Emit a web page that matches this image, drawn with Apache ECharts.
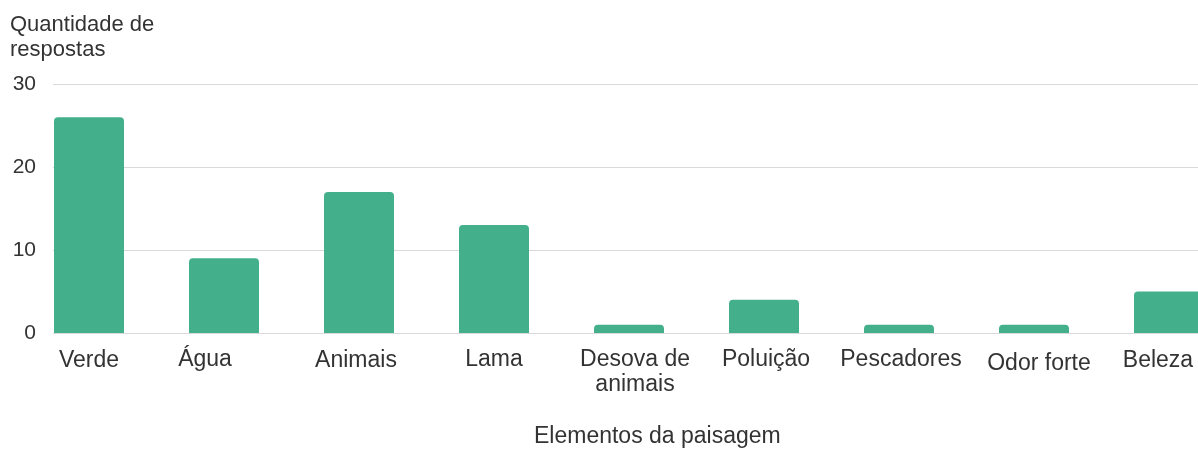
<!DOCTYPE html>
<html>
<head>
<meta charset="utf-8">
<script src="https://cdn.jsdelivr.net/npm/echarts@6/dist/echarts.min.js"></script>
<style>
html,body{margin:0;padding:0;background:#fff;}
#chart{width:1198px;height:449px;}
</style>
</head>
<body>
<div id="chart"></div>
<script>
const categories = ['Verde', 'Água', 'Animais', 'Lama', 'Desova de\nanimais', 'Poluição', 'Pescadores', 'Odor forte', 'Beleza'];
const values = [26, 9, 17, 13, 1, 4, 1, 1, 5];
const yTicks = [0, 10, 20, 30];
const yAxisTitle = 'Quantidade de\nrespostas';
const xAxisTitle = 'Elementos da paisagem';

// label placement tweaks (layout only): horizontal and vertical nudges in px
const labelDx = [0, -19, -3, 0, 6, 2, 2, 5, -11];
const labelDy = [3, 1, 3, 1, 0, 0, 1, 8, 2];

const FONT = '"Liberation Sans", Arial, sans-serif';
const TXT = '#333333';
const chart = echarts.init(document.getElementById('chart'), null, {renderer: 'canvas'});
const yMin = yTicks[0], yMax = yTicks[yTicks.length - 1], yStep = yTicks[1] - yTicks[0];

const rich = {};
categories.forEach(function (c, i) {
  const dx = labelDx[i], dy = labelDy[i];
  rich['c' + i] = {
    fontSize: 23, fontFamily: FONT, color: TXT, lineHeight: 25,
    padding: [dy, dx < 0 ? -2 * dx : 0, 0, dx > 0 ? 2 * dx : 0]
  };
});

chart.setOption({
  animation: false,
  backgroundColor: '#ffffff',
  textStyle: {fontFamily: FONT},
  title: [
    {text: yAxisTitle, left: 10, top: 12, padding: 0,
     textStyle: {fontFamily: FONT, fontSize: 22, fontWeight: 'normal', color: TXT, lineHeight: 25}},
    {text: xAxisTitle, left: 534, top: 425, padding: 0,
     textStyle: {fontFamily: FONT, fontSize: 23, fontWeight: 'normal', color: TXT}}
  ],
  grid: [
    {left: 53, right: 0, top: 84, bottom: 116, outerBoundsMode: 'none'},
    {left: 21.5, right: -38.5, top: 84, bottom: 116, outerBoundsMode: 'none'}
  ],
  xAxis: [
    {type: 'value', gridIndex: 0, show: false, min: 0, max: 1},
    {type: 'category', gridIndex: 1, data: categories, boundaryGap: true,
     axisLine: {show: false}, axisTick: {show: false},
     axisLabel: {interval: 0, margin: 14, fontSize: 23, color: TXT, fontFamily: FONT, lineHeight: 25,
       formatter: function (v, i) { return '{c' + i + '|' + v + '}'; },
       rich: rich}}
  ],
  yAxis: [
    {type: 'value', gridIndex: 0, min: yMin, max: yMax, interval: yStep,
     axisLine: {show: false}, axisTick: {show: false},
     axisLabel: {margin: 17, fontSize: 21, color: TXT, fontFamily: FONT},
     splitLine: {show: true, lineStyle: {color: '#d9d9d9', width: 1.2}}},
    {type: 'value', gridIndex: 1, min: yMin, max: yMax, interval: yStep, show: false,
     splitLine: {show: false}}
  ],
  series: [
    {type: 'bar', xAxisIndex: 1, yAxisIndex: 1, data: values, barWidth: 70,
     itemStyle: {color: '#43b08b', borderRadius: [4, 4, 0, 0]}}
  ]
});
</script>
</body>
</html>
